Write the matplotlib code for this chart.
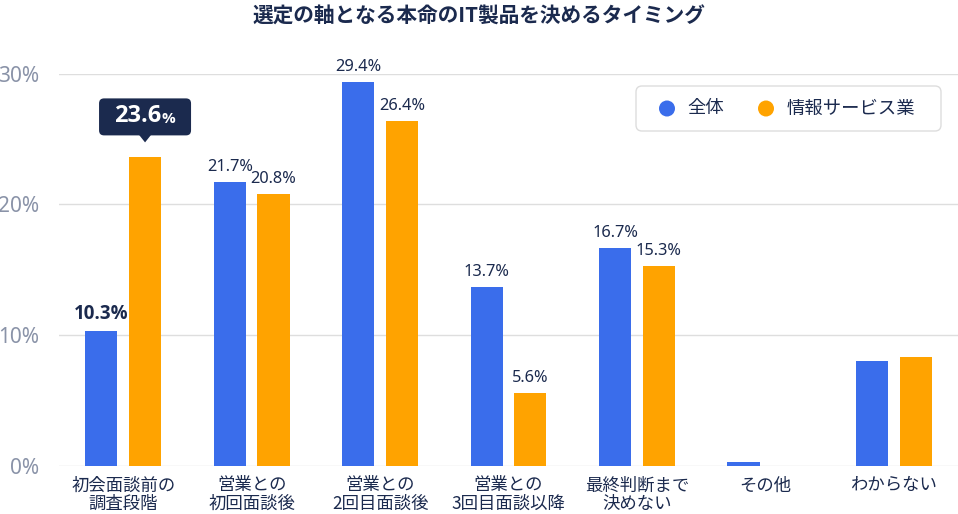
import matplotlib
matplotlib.use("Agg")
import matplotlib.pyplot as plt
from matplotlib.patches import FancyBboxPatch, Polygon, Circle
from matplotlib.transforms import IdentityTransform

plt.rcParams['font.family'] = ['Noto Sans CJK JP', 'DejaVu Sans']

categories = ["初会面談前の\n調査段階", "営業との\n初回面談後", "営業との\n2回目面談後",
              "営業との\n3回目面談以降", "最終判断まで\n決めない", "その他", "わからない"]
series_names = ["全体", "情報サービス業"]
overall = [10.3, 21.7, 29.4, 13.7, 16.7, 0.3, 8.0]
it_service = [23.6, 20.8, 26.4, 5.6, 15.3, 0.0, 8.3]
labels_overall = ["10.3%", "21.7%", "29.4%", "13.7%", "16.7%", None, None]
labels_it = ["23.6", "20.8%", "26.4%", "5.6%", "15.3%", None, None]
yticks = [0, 10, 20, 30]
ytick_labels = ["0%", "10%", "20%", "30%"]
title = "選定の軸となる本命のIT製品を決めるタイミング"

BLUE = "#3A6DEB"
ORANGE = "#FFA300"
NAVY = "#1B2A4E"
GRAY = "#8A93A8"
NUMFONT = ['Noto Sans', 'Noto Sans CJK JP']
BOLDFONT = ['Open Sans', 'Noto Sans CJK JP']
COLORS = [BLUE, ORANGE]

W, H = 958, 514
fig = plt.figure(figsize=(W / 100, H / 100), dpi=100)
ax = fig.add_axes([59 / W, 1 - 466 / H, 1 - 59 / W, (466 - 73.7) / H])

x = list(range(len(categories)))
off = 0.17
bw = 0.25
xb = [i - off for i in x]
xo = [i + off for i in x]
ax.bar(xb, overall, width=bw, color=BLUE, zorder=3)
ax.bar(xo, it_service, width=bw, color=ORANGE, zorder=3)

ax.set_xlim(-0.5, 6.5)
ax.set_ylim(0, 30)
ax.set_yticks(yticks)
ax.set_yticklabels(ytick_labels, family=NUMFONT, fontsize=15, color=GRAY)
ax.set_xticks(x)
ax.set_xticklabels(categories, fontsize=12.5, color=NAVY, linespacing=1.05)
ax.tick_params(axis='x', length=0, pad=7.5)
ax.tick_params(axis='y', length=0, pad=14)
for s in ax.spines.values():
    s.set_visible(False)
ax.grid(axis='y', color='#DEDEDE', linewidth=1, zorder=0)
ax.set_axisbelow(True)

# value labels
for i in x:
    lb = labels_overall[i]
    if lb:
        if i == 0:
            ax.annotate(lb, (xb[i], overall[i]), xytext=(0, 5), textcoords='offset points',
                        ha='center', va='bottom', fontsize=13.5, fontweight='bold',
                        color=NAVY, family=BOLDFONT)
        else:
            ax.annotate(lb, (xb[i], overall[i]), xytext=(0, 5), textcoords='offset points',
                        ha='center', va='bottom', fontsize=11.8, color=NAVY, family=NUMFONT,
                        annotation_clip=False)
    lo = labels_it[i]
    if lo and i != 0:
        ax.annotate(lo, (xo[i], it_service[i]), xytext=(0, 5), textcoords='offset points',
                    ha='center', va='bottom', fontsize=11.8, color=NAVY, family=NUMFONT,
                    annotation_clip=False)

# callout for the highlighted bar
fig.canvas.draw()
px, py = ax.transData.transform((xo[0], it_service[0]))
box_w, box_h = 92, 37
tip_gap = 15
bx0 = px - box_w / 2
by0 = py + tip_gap + 7
callout = FancyBboxPatch((bx0, by0), box_w, box_h,
                         boxstyle="round,pad=0,rounding_size=5",
                         transform=IdentityTransform(), facecolor=NAVY, edgecolor='none')
fig.add_artist(callout)
tri = Polygon([(px - 6, by0 + 0.5), (px + 6, by0 + 0.5), (px, py + tip_gap)],
              closed=True, transform=IdentityTransform(), facecolor=NAVY, edgecolor='none')
fig.add_artist(tri)
cy = by0 + box_h / 2 + 1
fig.text((px + 16) / W, cy / H, labels_it[0], ha='right', va='center', fontsize=17,
         fontweight='bold', color='white', family=BOLDFONT)
fig.text((px + 16) / W, (cy - 3) / H, "%", ha='left', va='center', fontsize=11,
         fontweight='bold', color='white', family=BOLDFONT)

# legend (drawn manually in pixel space)
lx0, lx1, ly_top, ly_bot = 636, 941, 86, 131
lcy = H - (ly_top + ly_bot) / 2
frame = FancyBboxPatch((lx0, H - ly_bot), lx1 - lx0, ly_bot - ly_top,
                       boxstyle="round,pad=0,rounding_size=6",
                       transform=IdentityTransform(), facecolor='white',
                       edgecolor='#DDDDDD', linewidth=1, zorder=5)
fig.add_artist(frame)
marker_x = [667, 766]
text_x = [687, 787]
for mx, tx, name, c in zip(marker_x, text_x, series_names, COLORS):
    fig.add_artist(Circle((mx, lcy), 8, transform=IdentityTransform(),
                          facecolor=c, edgecolor='none', zorder=6))
    fig.text(tx / W, lcy / H, name, ha='left', va='center', fontsize=13.2,
             color=NAVY, zorder=7)

fig.text(0.5, 1 - 16 / H, title, ha='center', va='center', fontsize=14.9,
         fontweight='bold', color=NAVY)

fig.savefig("out.png", dpi=100)
